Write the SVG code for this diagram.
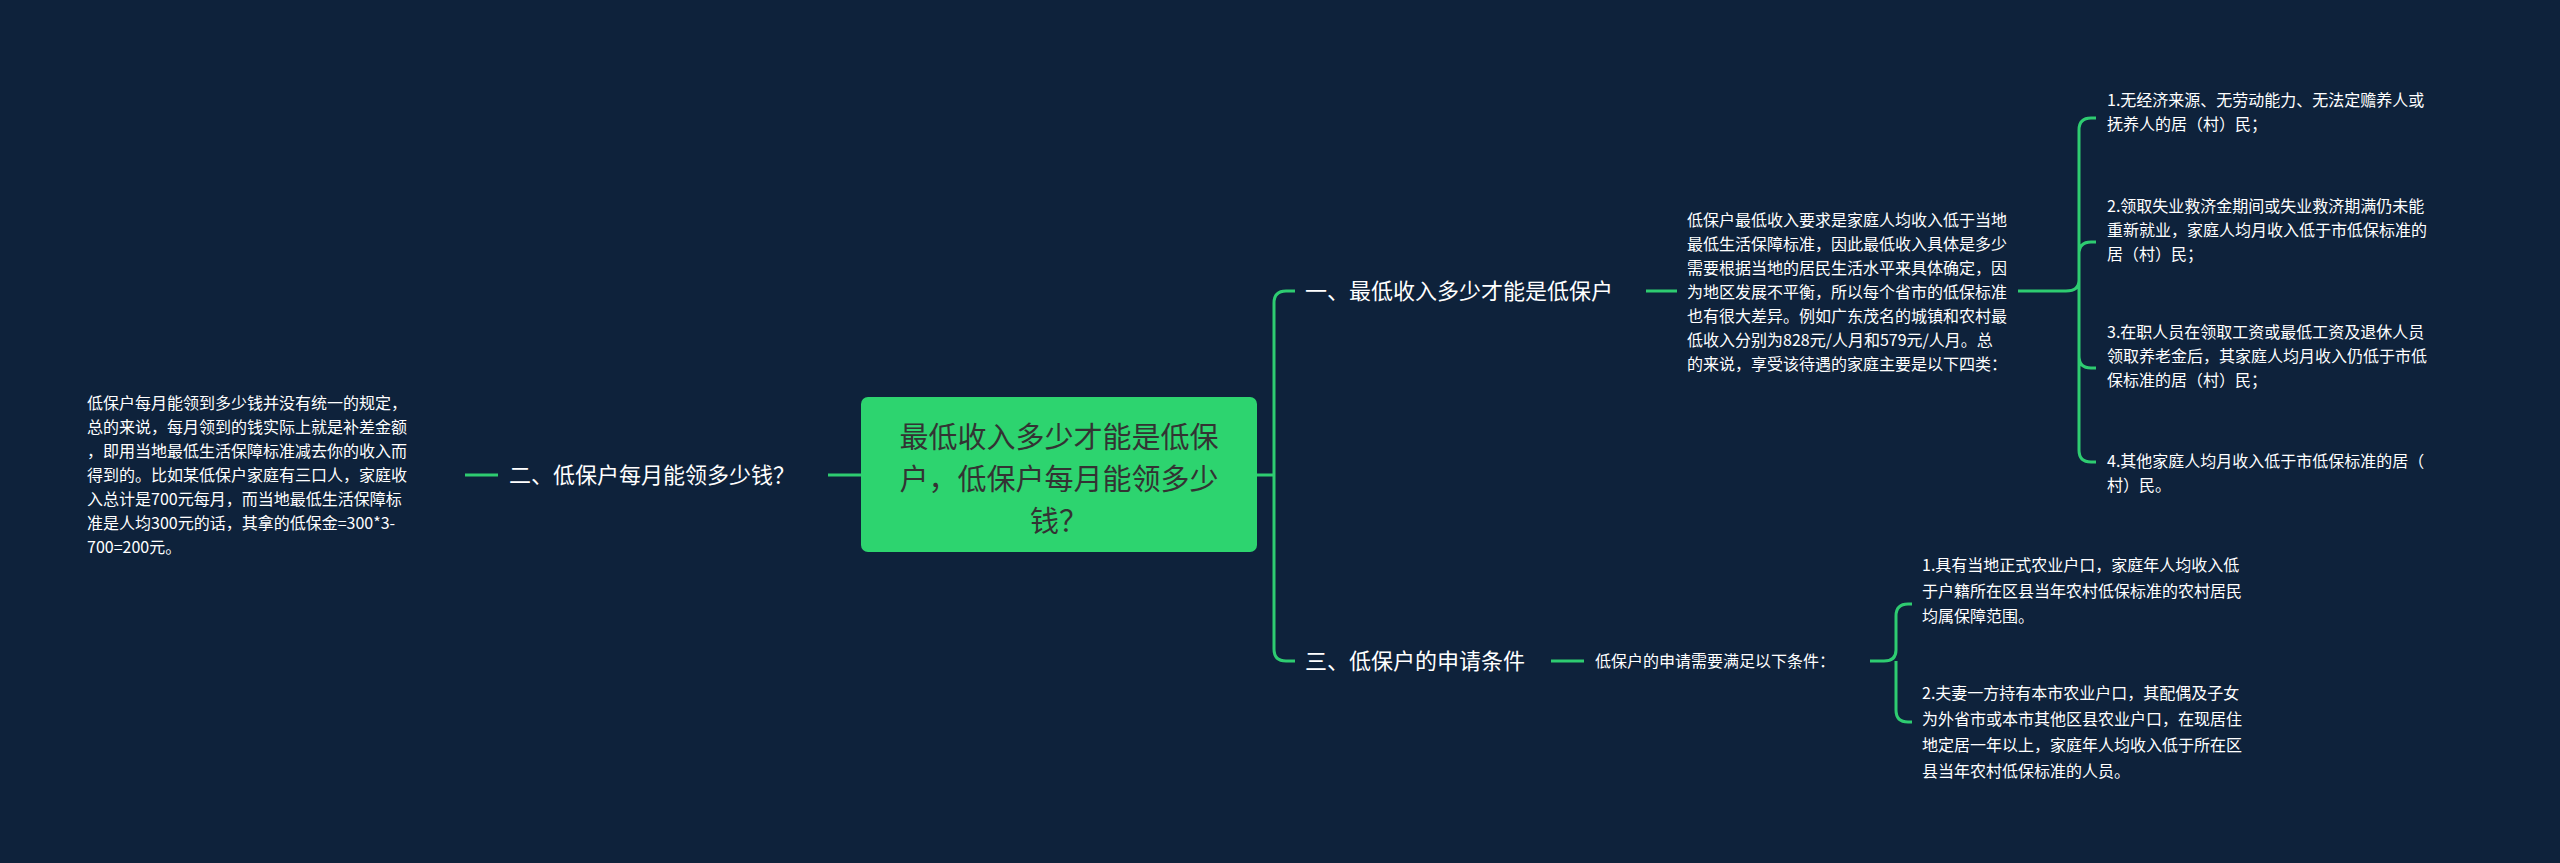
<svg xmlns="http://www.w3.org/2000/svg" width="2560" height="863" viewBox="0 0 2560 863">
<style>
.t{font-family:"Noto Sans CJK SC","Liberation Sans",sans-serif;fill:#ffffff}
.s{font-size:16px}
.m{font-size:22px}
.r{font-size:29px;fill:#333333;text-anchor:middle}
.c{fill:none;stroke:#2ecc71;stroke-width:3}
</style>
<rect width="2560" height="863" fill="#0e223b"/>
<g id="connectors">
<path class="c" d="M1257 475 H1274 M1274 475 V303 Q1274 291 1286 291 H1295 M1274 475 V649 Q1274 661 1286 661 H1295"/>
<path class="c" d="M861 475 H828 M498 475 H465"/>
<path class="c" d="M1646 291 H1677 M2018 291 H2066 Q2079 291 2079 280 V130 Q2079 118 2091 118 H2096 M2079 291 V254 Q2079 242 2091 242 H2096 M2079 291 V356 Q2079 368 2091 368 H2096 M2079 291 V450 Q2079 462 2091 462 H2096"/>
<path class="c" d="M1551 661 H1584 M1870 661 H1884 Q1896 661 1896 650 V616 Q1896 604 1908 604 H1912 M1896 661 V710 Q1896 722 1908 722 H1912"/>
</g>
<g id="root">
<rect x="861" y="397" width="396" height="155" rx="7" fill="#2dd46f"/>
<text class="t r" x="1059" y="448">最低收入多少才能是低保</text>
<text class="t r" x="1059" y="490">户，低保户每月能领多少</text>
<text class="t r" x="1059" y="532">钱？</text>
</g>
<g id="n2"><text class="t m" x="509" y="483">二、低保户每月能领多少钱？</text></g>
<g id="n2a"><text class="t s">
<tspan x="87" y="409">低保户每月能领到多少钱并没有统一的规定，</tspan>
<tspan x="87" y="433">总的来说，每月领到的钱实际上就是补差金额</tspan>
<tspan x="87" y="457">，即用当地最低生活保障标准减去你的收入而</tspan>
<tspan x="87" y="481">得到的。比如某低保户家庭有三口人，家庭收</tspan>
<tspan x="87" y="505">入总计是700元每月，而当地最低生活保障标</tspan>
<tspan x="87" y="529">准是人均300元的话，其拿的低保金=300*3-</tspan>
<tspan x="87" y="553">700=200元。</tspan></text></g>
<g id="n1"><text class="t m" x="1305" y="299">一、最低收入多少才能是低保户</text></g>
<g id="n1a"><text class="t s">
<tspan x="1687" y="226">低保户最低收入要求是家庭人均收入低于当地</tspan>
<tspan x="1687" y="250">最低生活保障标准，因此最低收入具体是多少</tspan>
<tspan x="1687" y="274">需要根据当地的居民生活水平来具体确定，因</tspan>
<tspan x="1687" y="298">为地区发展不平衡，所以每个省市的低保标准</tspan>
<tspan x="1687" y="322">也有很大差异。例如广东茂名的城镇和农村最</tspan>
<tspan x="1687" y="346">低收入分别为828元/人月和579元/人月。总</tspan>
<tspan x="1687" y="370">的来说，享受该待遇的家庭主要是以下四类：</tspan></text></g>
<g id="n1a1"><text class="t s"><tspan x="2107" y="106">1.无经济来源、无劳动能力、无法定赡养人或</tspan><tspan x="2107" y="130">抚养人的居（村）民；</tspan></text></g>
<g id="n1a2"><text class="t s"><tspan x="2107" y="212">2.领取失业救济金期间或失业救济期满仍未能</tspan><tspan x="2107" y="236">重新就业，家庭人均月收入低于市低保标准的</tspan><tspan x="2107" y="260">居（村）民；</tspan></text></g>
<g id="n1a3"><text class="t s"><tspan x="2107" y="338">3.在职人员在领取工资或最低工资及退休人员</tspan><tspan x="2107" y="362">领取养老金后，其家庭人均月收入仍低于市低</tspan><tspan x="2107" y="386">保标准的居（村）民；</tspan></text></g>
<g id="n1a4"><text class="t s"><tspan x="2107" y="467">4.其他家庭人均月收入低于市低保标准的居（</tspan><tspan x="2107" y="491">村）民。</tspan></text></g>
<g id="n3"><text class="t m" x="1305" y="669">三、低保户的申请条件</text></g>
<g id="n3a"><text class="t s" x="1595" y="667">低保户的申请需要满足以下条件：</text></g>
<g id="n3a1"><text class="t s"><tspan x="1922" y="571">1.具有当地正式农业户口，家庭年人均收入低</tspan><tspan x="1922" y="597">于户籍所在区县当年农村低保标准的农村居民</tspan><tspan x="1922" y="622">均属保障范围。</tspan></text></g>
<g id="n3a2"><text class="t s"><tspan x="1922" y="699">2.夫妻一方持有本市农业户口，其配偶及子女</tspan><tspan x="1922" y="725">为外省市或本市其他区县农业户口，在现居住</tspan><tspan x="1922" y="751">地定居一年以上，家庭年人均收入低于所在区</tspan><tspan x="1922" y="777">县当年农村低保标准的人员。</tspan></text></g>
</svg>
